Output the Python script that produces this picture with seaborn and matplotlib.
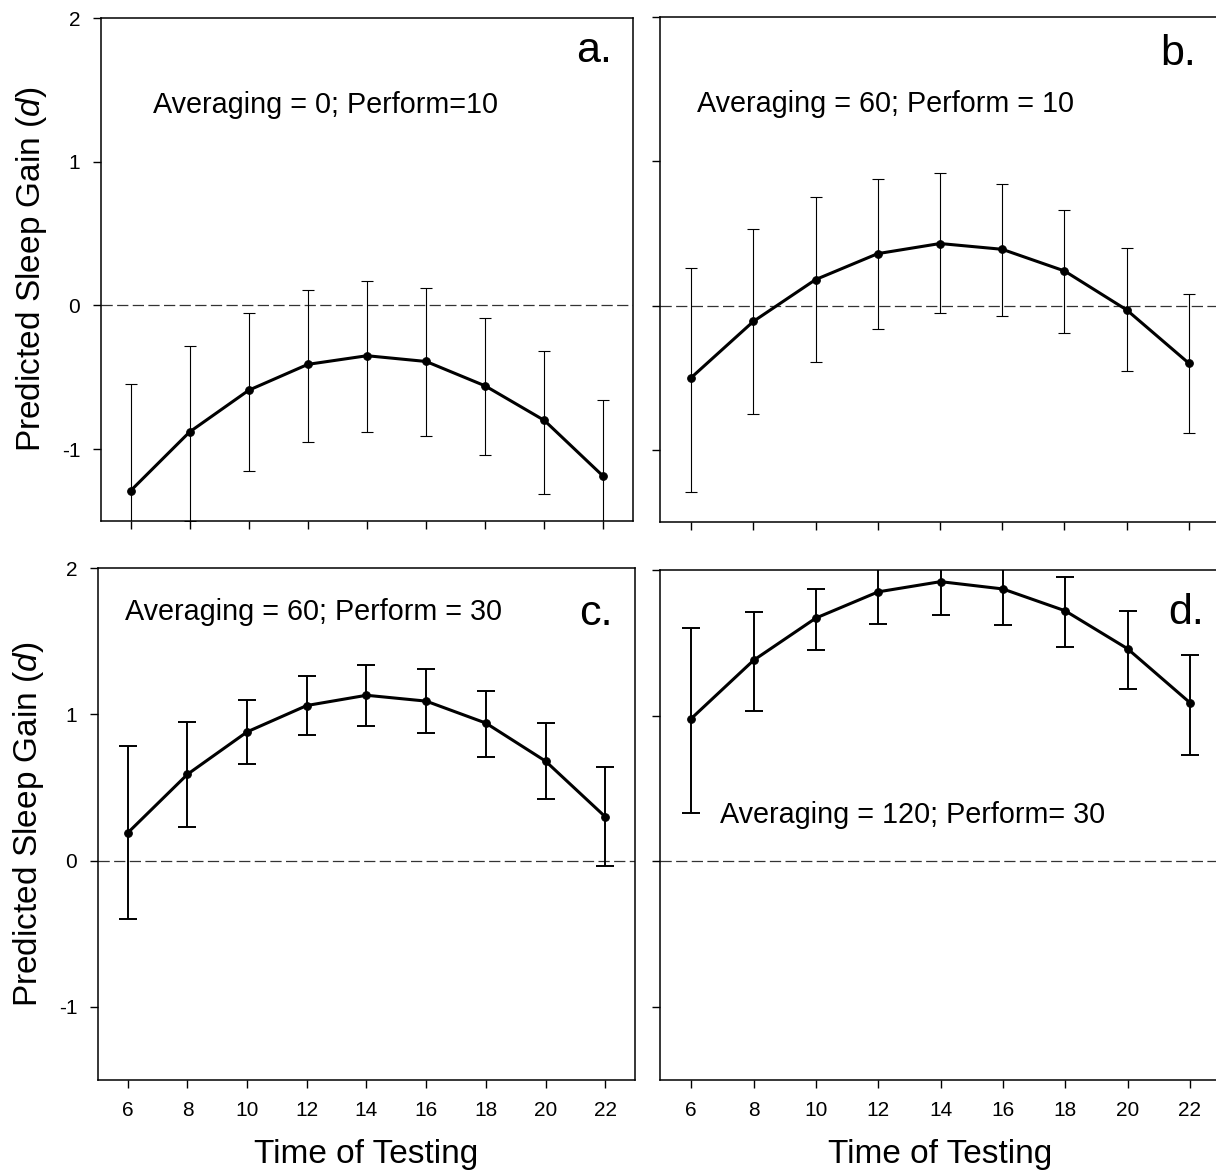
import numpy as np
import pandas as pd
import matplotlib
matplotlib.use("Agg")
import matplotlib.pyplot as plt
import seaborn as sns

# ---------------- data ----------------
times = [6, 8, 10, 12, 14, 16, 18, 20, 22]

a_mean = [-1.29, -0.88, -0.59, -0.41, -0.35, -0.39, -0.56, -0.80, -1.19]
a_up   = [-0.55, -0.28, -0.05, 0.11, 0.17, 0.12, -0.09, -0.32, -0.66]
a_low  = [-2.03, -1.50, -1.15, -0.95, -0.88, -0.91, -1.04, -1.31, -1.72]

b_mean = [-0.50, -0.11, 0.18, 0.36, 0.43, 0.39, 0.24, -0.03, -0.40]
b_up   = [0.26, 0.53, 0.75, 0.88, 0.92, 0.84, 0.66, 0.40, 0.08]
b_low  = [-1.29, -0.75, -0.39, -0.16, -0.05, -0.07, -0.19, -0.45, -0.88]

c_mean = [0.19, 0.59, 0.88, 1.06, 1.13, 1.09, 0.94, 0.68, 0.30]
c_up   = [0.78, 0.95, 1.10, 1.26, 1.34, 1.31, 1.16, 0.94, 0.64]
c_low  = [-0.40, 0.23, 0.66, 0.86, 0.92, 0.87, 0.71, 0.42, -0.04]

d_mean = [0.98, 1.38, 1.67, 1.85, 1.92, 1.87, 1.72, 1.46, 1.09]
d_up   = [1.60, 1.71, 1.87, 2.05, 2.12, 2.10, 1.95, 1.72, 1.42]
d_low  = [0.33, 1.03, 1.45, 1.63, 1.69, 1.62, 1.47, 1.18, 0.73]

panel_letters = ["a.", "b.", "c.", "d."]
panel_notes = ["Averaging = 0; Perform=10",
               "Averaging = 60; Perform = 10",
               "Averaging = 60; Perform = 30",
               "Averaging = 120; Perform= 30"]
xticks = [6, 8, 10, 12, 14, 16, 18, 20, 22]
yticks = [-1, 0, 1, 2]
ytick_labels = ["-1", "0", "1", "2"]
xlabel = "Time of Testing"
ylabel = r"Predicted Sleep Gain ($\mathit{d}$)"

# ---------------- style ----------------
sns.set_theme(style="ticks")
plt.rcParams["font.family"] = ["Liberation Sans", "DejaVu Sans"]
plt.rcParams["mathtext.fontset"] = "custom"
plt.rcParams["mathtext.it"] = "Liberation Sans:italic"
plt.rcParams["mathtext.rm"] = "Liberation Sans"
plt.rcParams["text.color"] = "black"
plt.rcParams["axes.labelcolor"] = "black"
plt.rcParams["xtick.color"] = "black"
plt.rcParams["ytick.color"] = "black"
plt.rcParams["axes.edgecolor"] = "black"

W, H = 1216, 1171
fig = plt.figure(figsize=(W / 100, H / 100), dpi=100)

def px_axes(l, t, r, b):
    return fig.add_axes([l / W, 1 - b / H, (r - l) / W, (b - t) / H])

axes = [px_axes(101, 18, 633, 521),
        px_axes(660, 17, 1220, 522),
        px_axes(98, 568, 635, 1080),
        px_axes(660, 570, 1221, 1080)]

series = [(a_mean, a_up, a_low), (b_mean, b_up, b_low),
          (c_mean, c_up, c_low), (d_mean, d_up, d_low)]

letter_pos = [(0.9605, 0.9125), (0.957, 0.905), (0.958, 0.889), (0.97, 0.894)]
note_pos = [(0.098, 0.811), (0.066, 0.812), (0.05, 0.898), (0.107, 0.504)]
err_lw = [0.8, 0.8, 1.4, 1.4]
cap = [4.5, 4.5, 6.5, 6.5]

for i, ax in enumerate(axes):
    mean, up, low = series[i]
    df = pd.DataFrame({"time": times, "gain": mean})
    mean_arr = np.array(mean)
    yerr = np.vstack([mean_arr - np.array(low), np.array(up) - mean_arr])
    ax.errorbar(times, mean, yerr=yerr, fmt="none", ecolor="black",
                elinewidth=err_lw[i], capsize=cap[i], capthick=err_lw[i], zorder=2)
    sns.lineplot(data=df, x="time", y="gain", ax=ax, color="black",
                 linewidth=2.2, marker="o", markersize=5.5,
                 markeredgecolor="black", markerfacecolor="black", zorder=3)
    ax.axhline(0, color="#333333", linewidth=0.9, dashes=(9, 3.5), zorder=1)

    ax.set_xlim(5, 23)
    ax.set_ylim(-1.5, 2)
    ax.set_xticks(xticks)
    ax.set_yticks(yticks)
    ax.tick_params(direction="out", length=6, width=1.0, colors="black",
                   labelsize=15, pad=9)
    for s in ax.spines.values():
        s.set_linewidth(1.1)
        s.set_color("black")
    ax.set_xlabel("")
    ax.set_ylabel("")
    if i in (0, 2):
        ax.set_yticklabels(ytick_labels)
        ax.set_ylabel(ylabel, fontsize=24, labelpad=9)
    else:
        ax.set_yticklabels([])
        ax.spines["right"].set_visible(False)
    if i in (2, 3):
        ax.set_xticklabels([str(t) for t in xticks])
        ax.set_xlabel(xlabel, fontsize=24, labelpad=14)
    else:
        ax.set_xticklabels([])

    ax.text(letter_pos[i][0], letter_pos[i][1], panel_letters[i],
            transform=ax.transAxes, ha="right", va="baseline", fontsize=31)
    ax.text(note_pos[i][0], note_pos[i][1], panel_notes[i],
            transform=ax.transAxes, ha="left", va="baseline", fontsize=20.7)

fig.savefig("out.png", dpi=100)
